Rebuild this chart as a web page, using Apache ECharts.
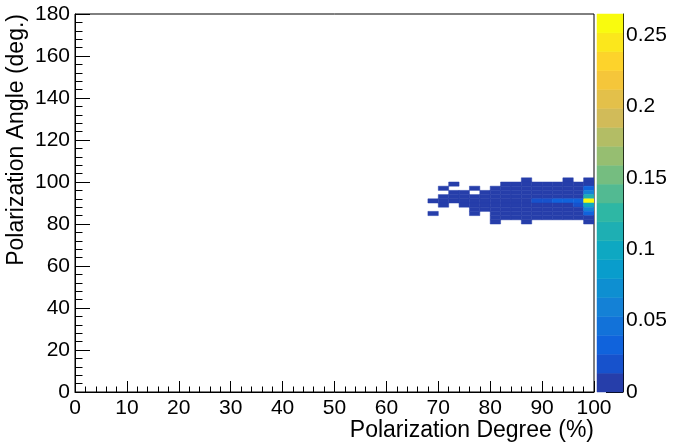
<!DOCTYPE html>
<html>
<head>
<meta charset="utf-8">
<script src="https://cdn.jsdelivr.net/npm/echarts@6/dist/echarts.min.js"></script>
<style>
  html, body { margin: 0; padding: 0; background: #ffffff; }
  #chart { width: 680px; height: 448px; }
</style>
</head>
<body>
<div id="chart"></div>
<script>
// lower edges of the 2% x 2deg bins that hold entries
const degreeBins = [68, 70, 72, 74, 76, 78, 80, 82, 84, 86, 88, 90, 92, 94, 96, 98];
const angleBins = [100, 98, 96, 94, 92, 90, 88, 86, 84, 82, 80];
const d = 0.005;
// one row per angle bin, one value per degree bin (0 = empty)
const probRows = [
    [0, 0, 0, 0, 0, 0, 0, 0, 0, d, 0, 0, 0, d, 0, d],
    [0, 0, d, 0, 0, 0, 0, d, d, d, d, d, d, d, d, d],
    [0, d, 0, 0, d, 0, d, d, d, d, d, d, d, d, d, 0.031],
    [0, 0, d, d, 0, d, d, d, d, d, d, d, d, d, d, 0.065],
    [0, d, d, d, d, d, d, d, d, d, d, d, d, d, d, 0.113],
    [d, d, d, d, d, d, d, d, d, d, 0.022, 0.022, 0.035, 0.035, 0.035, 0.2646],
    [0, d, 0, d, d, d, d, d, d, d, d, d, d, d, 0.022, 0.100],
    [0, 0, 0, 0, d, d, d, d, d, d, d, d, d, d, d, 0.060],
    [d, 0, 0, 0, d, 0, d, d, d, d, d, d, d, d, d, 0.033],
    [0, 0, 0, 0, 0, 0, d, d, d, d, d, d, d, d, d, d],
    [0, 0, 0, 0, 0, 0, d, 0, 0, d, 0, 0, 0, 0, 0, d]
];
const paletteTicks = [0, 0.05, 0.1, 0.15, 0.2, 0.25];

const binW = 2;
const nLevels = 20;
const font = 'Liberation Sans, Arial, Helvetica, sans-serif';

// ROOT kBird palette
const birdStops = [0.0, 0.125, 0.25, 0.375, 0.5, 0.625, 0.75, 0.875, 1.0];
const birdR = [0.2082, 0.0592, 0.0780, 0.0232, 0.1802, 0.5301, 0.8186, 0.9956, 0.9764];
const birdG = [0.1664, 0.3599, 0.5041, 0.6419, 0.7178, 0.7492, 0.7328, 0.7862, 0.9832];
const birdB = [0.5293, 0.8684, 0.8385, 0.7914, 0.6425, 0.4662, 0.3499, 0.1968, 0.0539];

function birdColor(t) {
    let k = 0;
    while (k < birdStops.length - 2 && t > birdStops[k + 1]) k++;
    const f = (t - birdStops[k]) / (birdStops[k + 1] - birdStops[k]);
    const c = arr => Math.round(255 * (arr[k] + (arr[k + 1] - arr[k]) * f));
    return 'rgb(' + c(birdR) + ',' + c(birdG) + ',' + c(birdB) + ')';
}
const levelColors = [];
for (let i = 0; i < nLevels; i++) levelColors.push(birdColor((i + 1) / nLevels));

const cells = [];
let zMax = 0;
angleBins.forEach((y, r) => {
    degreeBins.forEach((x, c) => {
        const v = probRows[r][c];
        if (v > 0) {
            cells.push([x, y, v]);
            zMax = Math.max(zMax, v);
        }
    });
});

function levelOf(v) {
    return Math.min(nLevels - 1, Math.floor(v / zMax * nLevels));
}

const levels = [];
for (let i = 0; i < nLevels; i++) levels.push([0, i * zMax / nLevels, (i + 1) * zMax / nLevels, i]);

const chart = echarts.init(document.getElementById('chart'));

const black = { color: '#000000', width: 1 };

chart.setOption({
    animation: false,
    backgroundColor: '#ffffff',
    grid: [
        { left: 75, right: 86, top: 14, bottom: 56, show: true, borderColor: '#000000', borderWidth: 1 },
        { left: 597, right: 57, top: 14, bottom: 56 }
    ],
    xAxis: [{
        gridIndex: 0,
        type: 'value',
        min: 0,
        max: 100,
        interval: 10,
        axisLine: { show: true, onZero: false, lineStyle: black },
        axisTick: { show: true, inside: true, length: 11, lineStyle: black },
        minorTick: { show: true, splitNumber: 5, length: 5.5, lineStyle: black },
        axisLabel: { color: '#000000', fontSize: 21, fontFamily: font, margin: 6 },
        splitLine: { show: false }
    }, {
        gridIndex: 1,
        type: 'value',
        min: 0,
        max: 1,
        show: false
    }],
    yAxis: [{
        gridIndex: 0,
        type: 'value',
        min: 0,
        max: 180,
        interval: 20,
        axisLine: { show: true, onZero: false, lineStyle: black },
        axisTick: { show: true, inside: true, length: 15, lineStyle: black },
        minorTick: { show: true, splitNumber: 5, length: 7.5, lineStyle: black },
        axisLabel: { color: '#000000', fontSize: 21, fontFamily: font, margin: 5 },
        splitLine: { show: false }
    }, {
        gridIndex: 1,
        type: 'value',
        position: 'right',
        min: 0,
        max: zMax,
        axisLine: { show: true, onZero: false, lineStyle: black },
        axisTick: { show: true, inside: true, length: 17, lineStyle: black, customValues: paletteTicks },
        axisLabel: { color: '#000000', fontSize: 21, fontFamily: font, margin: 3, customValues: paletteTicks },
        splitLine: { show: false }
    }],
    series: [{
        type: 'custom',
        xAxisIndex: 0,
        yAxisIndex: 0,
        clip: true,
        data: cells,
        renderItem: function(params, api) {
            const x = api.value(0);
            const y = api.value(1);
            const p0 = api.coord([x, y + binW]);
            const p1 = api.coord([x + binW, y]);
            const col = levelColors[levelOf(api.value(2))];
            return {
                type: 'rect',
                shape: { x: p0[0], y: p0[1], width: p1[0] - p0[0], height: p1[1] - p0[1] },
                style: { fill: col, stroke: col, lineWidth: 0.5 }
            };
        }
    }, {
        type: 'custom',
        xAxisIndex: 1,
        yAxisIndex: 1,
        data: levels,
        renderItem: function(params, api) {
            const p0 = api.coord([0, api.value(2)]);
            const p1 = api.coord([1, api.value(1)]);
            const col = levelColors[api.value(3)];
            return {
                type: 'rect',
                shape: { x: p0[0], y: p0[1], width: p1[0] - p0[0], height: p1[1] - p0[1] },
                style: { fill: col, stroke: col, lineWidth: 0.5 }
            };
        }
    }],
    graphic: [{
        type: 'text',
        x: 594,
        y: 431,
        style: {
            text: 'Polarization Degree (%)',
            fill: '#000000',
            font: '23px ' + font,
            align: 'right',
            verticalAlign: 'middle'
        }
    }, {
        type: 'text',
        x: 17,
        y: 14,
        rotation: Math.PI / 2,
        style: {
            text: 'Polarization Angle (deg.)',
            fill: '#000000',
            font: '23px ' + font,
            align: 'right',
            verticalAlign: 'middle'
        }
    }]
});
</script>
</body>
</html>
